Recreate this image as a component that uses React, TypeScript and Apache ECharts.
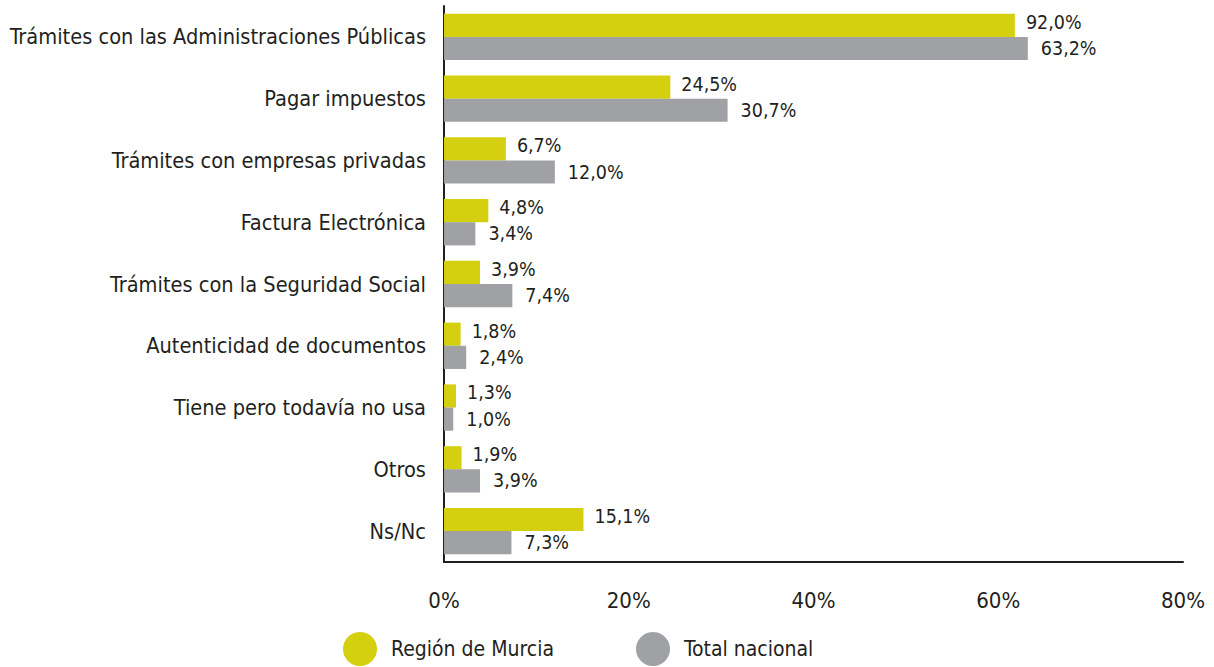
import React, { useEffect, useRef } from "react";
import * as echarts from "echarts";

const categories = [
  "Trámites con las Administraciones Públicas",
  "Pagar impuestos",
  "Trámites con empresas privadas",
  "Factura Electrónica",
  "Trámites con la Seguridad Social",
  "Autenticidad de documentos",
  "Tiene pero todavía no usa",
  "Otros",
  "Ns/Nc",
];
// bar lengths as drawn in the reference (the first bar is drawn shorter than its label)
const murciaValues = [61.8, 24.5, 6.7, 4.8, 3.9, 1.8, 1.3, 1.9, 15.1];
const murciaLabels = ["92,0%", "24,5%", "6,7%", "4,8%", "3,9%", "1,8%", "1,3%", "1,9%", "15,1%"];
const totalValues = [63.2, 30.7, 12.0, 3.4, 7.4, 2.4, 1.0, 3.9, 7.3];
const totalLabels = ["63,2%", "30,7%", "12,0%", "3,4%", "7,4%", "2,4%", "1,0%", "3,9%", "7,3%"];
const seriesNames = ["Región de Murcia", "Total nacional"];

const FONT = "'DejaVu Sans Condensed', 'Roboto', sans-serif";
const TEXT = "#231f20";

export default function App() {
  const ref = useRef<HTMLDivElement>(null);
  useEffect(() => {
    const chart = echarts.init(ref.current!, null, { renderer: "svg" });
    chart.setOption({
      animation: false,
      textStyle: { fontFamily: FONT, color: TEXT },
      grid: { left: 444, right: 31, top: 6, bottom: 105, containLabel: false },
      legend: {
        data: seriesNames,
        left: 343,
        top: 632,
        padding: 0,
        icon: "circle",
        itemWidth: 34,
        itemHeight: 34,
        itemGap: 82,
        textStyle: { fontFamily: FONT, fontSize: 21, color: TEXT, padding: [0, 0, 0, 9] },
      },
      xAxis: {
        type: "value",
        min: 0,
        max: 80,
        interval: 20,
        axisLine: { show: true, lineStyle: { color: "#231f20", width: 2 } },
        axisTick: { show: false },
        splitLine: { show: false },
        axisLabel: {
          formatter: "{value}%",
          fontFamily: FONT,
          fontSize: 22,
          color: TEXT,
          margin: 27,
        },
      },
      yAxis: {
        type: "category",
        data: categories,
        inverse: true,
        axisLine: { show: true, lineStyle: { color: "#231f20", width: 2 } },
        axisTick: { show: false },
        axisLabel: { fontFamily: FONT, fontSize: 21.6, color: TEXT, margin: 18, padding: [3, 0, 0, 0] },
      },
      series: [
        {
          name: seriesNames[0],
          type: "bar",
          data: murciaValues,
          barGap: "0%",
          barCategoryGap: "25%",
          itemStyle: { color: "#d4d00f" },
          label: {
            show: true,
            position: "right",
            distance: 11,
            fontFamily: FONT,
            fontSize: 19.5,
            color: TEXT,
            offset: [0, -3],
            formatter: (p: any) => murciaLabels[p.dataIndex],
          },
        },
        {
          name: seriesNames[1],
          type: "bar",
          data: totalValues,
          itemStyle: { color: "#a0a1a5" },
          label: {
            show: true,
            position: "right",
            distance: 13,
            fontFamily: FONT,
            fontSize: 19.5,
            color: TEXT,
            formatter: (p: any) => totalLabels[p.dataIndex],
          },
        },
      ],
    });
    return () => chart.dispose();
  }, []);
  return <div ref={ref} style={{ width: 1214, height: 667, position: "absolute", left: 0, top: 0 }} />;
}
